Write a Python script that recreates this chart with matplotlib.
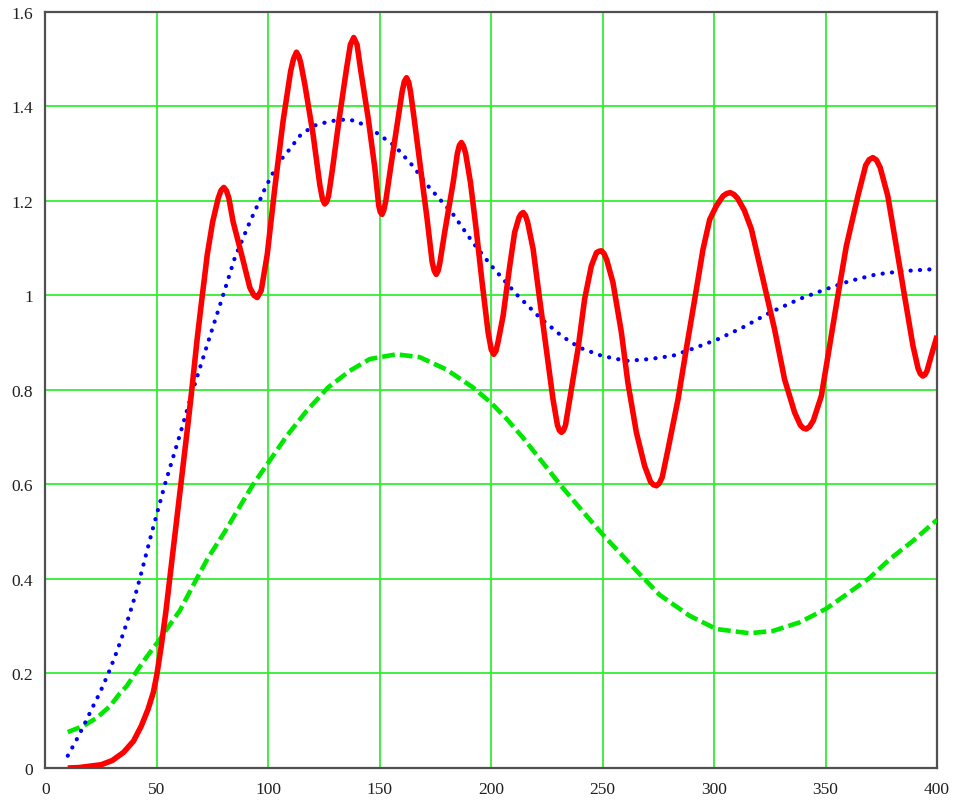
import numpy as np
import matplotlib
matplotlib.use("Agg")
from matplotlib import pyplot as plt
from matplotlib.ticker import FuncFormatter, MultipleLocator

# oscillating response (red, solid)
red_x = [10, 15, 20, 25, 30, 35, 39.5, 43, 46, 48.4, 50, 52, 54, 56, 58, 60, 62,
         64, 66, 68, 70, 72.6, 75.0, 77.5, 78.8, 80.0, 81.2,
         82.3, 84.2, 88.0, 91.7, 93.5, 95.0, 96.8, 99.5, 102.9, 106.6, 110.0,
         111.3, 112.6, 113.7, 114.5, 116.4, 120.1, 123.1, 124.3, 125.3, 126.2,
         127, 128.8, 131.8, 135.1, 136.8, 138.3, 139.8, 141.3, 144.8, 147.8,
         149.5, 150.2, 151.0, 151.8, 152.7, 154.8, 158.2, 160, 161, 162.0, 163,
         163.8, 165.4, 168.3, 171.2, 173.5, 174.4, 175.3, 176.2, 177, 179.1,
         182.9, 184.8, 185.7, 186.6, 187.5, 188.5, 190.7, 193.4, 195.9, 198.6,
         200, 201.1, 202.1, 203, 205.3, 208.3, 210.5, 212.5, 213.4, 214.3,
         215.3, 216.3, 218.8, 221.7, 224.7, 227.7, 229.7, 230.6, 231.5, 232.4,
         233.3, 235.2, 238.9, 241.9, 244.9, 247.2, 248.3, 249.4, 250.6, 251.8,
         254.6, 258.4, 261.3, 265.1, 268.8, 271.5, 272.8, 274.1, 275.4, 276.7,
         279.3, 283.8, 287.5, 291.3, 295.0, 298, 301.0, 304, 305.6, 307.2,
         308.9, 310.5, 313.5, 316.7, 321.9, 327.1, 331.6, 336.1, 338.7, 340,
         341.3, 342.8, 344.5, 348.1, 351.8, 355.5, 359.3, 364.5, 368, 369.6,
         371.2, 372.8, 374.5, 377.9, 381.7, 385.4, 389.2, 391.5, 392.5, 393.6,
         394.6, 395.5, 397.4, 400]
red_y = [0.0, 0.001, 0.004, 0.007, 0.016, 0.033, 0.057, 0.089, 0.124, 0.160,
         0.198, 0.26, 0.33, 0.41, 0.49, 0.57, 0.65, 0.73, 0.815, 0.905, 0.985,
         1.086, 1.155, 1.205, 1.222, 1.228, 1.221, 1.205, 1.155, 1.086, 1.016,
         1.0, 0.995, 1.01, 1.086, 1.227, 1.368, 1.474, 1.500, 1.514, 1.505,
         1.492, 1.445, 1.339, 1.233, 1.203, 1.193, 1.198, 1.21, 1.268, 1.374,
         1.480, 1.530, 1.545, 1.530, 1.48, 1.374, 1.268, 1.19, 1.176, 1.171,
         1.180, 1.2, 1.268, 1.374, 1.43, 1.452, 1.46, 1.450, 1.43, 1.374,
         1.268, 1.162, 1.07, 1.052, 1.044, 1.052, 1.07, 1.133, 1.238, 1.30,
         1.317, 1.323, 1.316, 1.30, 1.238, 1.133, 1.027, 0.921, 0.885, 0.875,
         0.882, 0.9, 0.956, 1.062, 1.133, 1.165, 1.172, 1.175, 1.169, 1.155,
         1.097, 0.992, 0.886, 0.780, 0.725, 0.714, 0.710, 0.714, 0.725, 0.780,
         0.886, 0.992, 1.062, 1.09, 1.093, 1.094, 1.088, 1.075, 1.027, 0.921,
         0.815, 0.710, 0.639, 0.605, 0.599, 0.597, 0.602, 0.615, 0.674, 0.780,
         0.886, 0.992, 1.097, 1.16, 1.189, 1.21, 1.215, 1.217, 1.213, 1.205,
         1.18, 1.140, 1.034, 0.928, 0.822, 0.752, 0.725, 0.719, 0.717, 0.722,
         0.735, 0.787, 0.893, 0.999, 1.104, 1.210, 1.275, 1.287, 1.291, 1.286,
         1.27, 1.210, 1.104, 0.999, 0.893, 0.845, 0.834, 0.829, 0.832, 0.84,
         0.872, 0.914]

# smooth trend (blue, dotted)
blue_x = [10, 13.2, 17.0, 21.4, 24.4, 28.2, 31.2, 34.2, 37.1, 40.1, 42.3, 47.8,
          53.6, 60, 66.2, 72.9, 79.7, 85, 91.7, 96.1, 98.4, 104.4, 108.1, 114.1,
          120.1, 127.6, 135.1, 139.6, 146.3, 156.7, 164.9, 170.9, 176.9, 182.9,
          191.8, 200.1, 211.3, 221.7, 231.5, 239.7, 249.4, 260.6, 271.1, 281.5,
          290.5, 301.7, 312.9, 324.9, 338.3, 350.3, 360.8, 372.7, 384.7, 398.1, 400]
blue_y = [0.026, 0.053, 0.088, 0.131, 0.159, 0.200, 0.236, 0.275, 0.316, 0.362,
          0.40, 0.50, 0.60, 0.70, 0.80, 0.90, 1.0, 1.08, 1.155, 1.2, 1.225,
          1.28, 1.30, 1.337, 1.358, 1.368, 1.372, 1.368, 1.351, 1.316, 1.273,
          1.235, 1.203, 1.171, 1.111, 1.062, 1.002, 0.953, 0.914, 0.889, 0.872,
          0.861, 0.865, 0.872, 0.887, 0.907, 0.932, 0.963, 0.992, 1.013, 1.030,
          1.044, 1.051, 1.055, 1.055]

# slow wave (green, dashed)
green_x = [10, 17, 23, 29, 33.4, 36.4, 42.4, 45.4, 51.3, 54.3, 60.3, 67.8, 73,
           80.5, 88.7, 93.2, 100, 108.2, 117.1, 126.8, 136.5, 145.5, 157.4,
           167.9, 179.8, 191.8, 200, 207, 214, 223.1, 231.3, 241, 250, 259.1,
           266.6, 275.6, 289, 301, 315.9, 326.4, 338.3, 350.3, 359.3, 369.7,
           378.6, 389.1, 400]
green_y = [0.076, 0.089, 0.106, 0.131, 0.158, 0.173, 0.215, 0.235, 0.272, 0.293,
           0.333, 0.40, 0.445, 0.50, 0.565, 0.60, 0.646, 0.702, 0.755, 0.805,
           0.840, 0.865, 0.875, 0.869, 0.843, 0.805, 0.772, 0.738, 0.700, 0.646,
           0.597, 0.543, 0.494, 0.448, 0.410, 0.366, 0.322, 0.294, 0.285, 0.290,
           0.308, 0.337, 0.367, 0.402, 0.441, 0.480, 0.525]

fig = plt.figure(figsize=(9.55, 8.03), dpi=100)
ax = fig.add_axes([0.0476, 0.0423, 0.9336, 0.9421])

ax.grid(True, color="#33ee33", linewidth=1.3)
ax.set_axisbelow(True)

ax.plot(green_x, green_y, color="#00e800", linewidth=3.3,
        linestyle=(0, (2.8, 1.1)), dash_capstyle="butt", zorder=3)
ax.plot(blue_x, blue_y, color="#0000ff", linewidth=3.0,
        linestyle=(0, (0.05, 2.2)), dash_capstyle="round", zorder=4)
ax.plot(red_x, red_y, color="#ff0000", linewidth=4.0,
        solid_joinstyle="round", solid_capstyle="butt", zorder=5)

ax.set_xlim(0, 400)
ax.set_ylim(0, 1.6)
ax.xaxis.set_major_locator(MultipleLocator(50))
ax.yaxis.set_major_locator(MultipleLocator(0.2))
ax.yaxis.set_major_formatter(FuncFormatter(lambda v, p: "%g" % round(v, 1)))
ax.xaxis.set_major_formatter(FuncFormatter(lambda v, p: "%g" % v))

for s in ax.spines.values():
    s.set_color("#505050")
    s.set_linewidth(1.6)

ax.tick_params(length=0, labelsize=12.5, colors="#202020")
ax.tick_params(axis="x", pad=9)
ax.tick_params(axis="y", pad=9)
for lab in ax.get_xticklabels() + ax.get_yticklabels():
    lab.set_family("Liberation Serif")

fig.savefig("out.png", dpi=100, facecolor="white")
